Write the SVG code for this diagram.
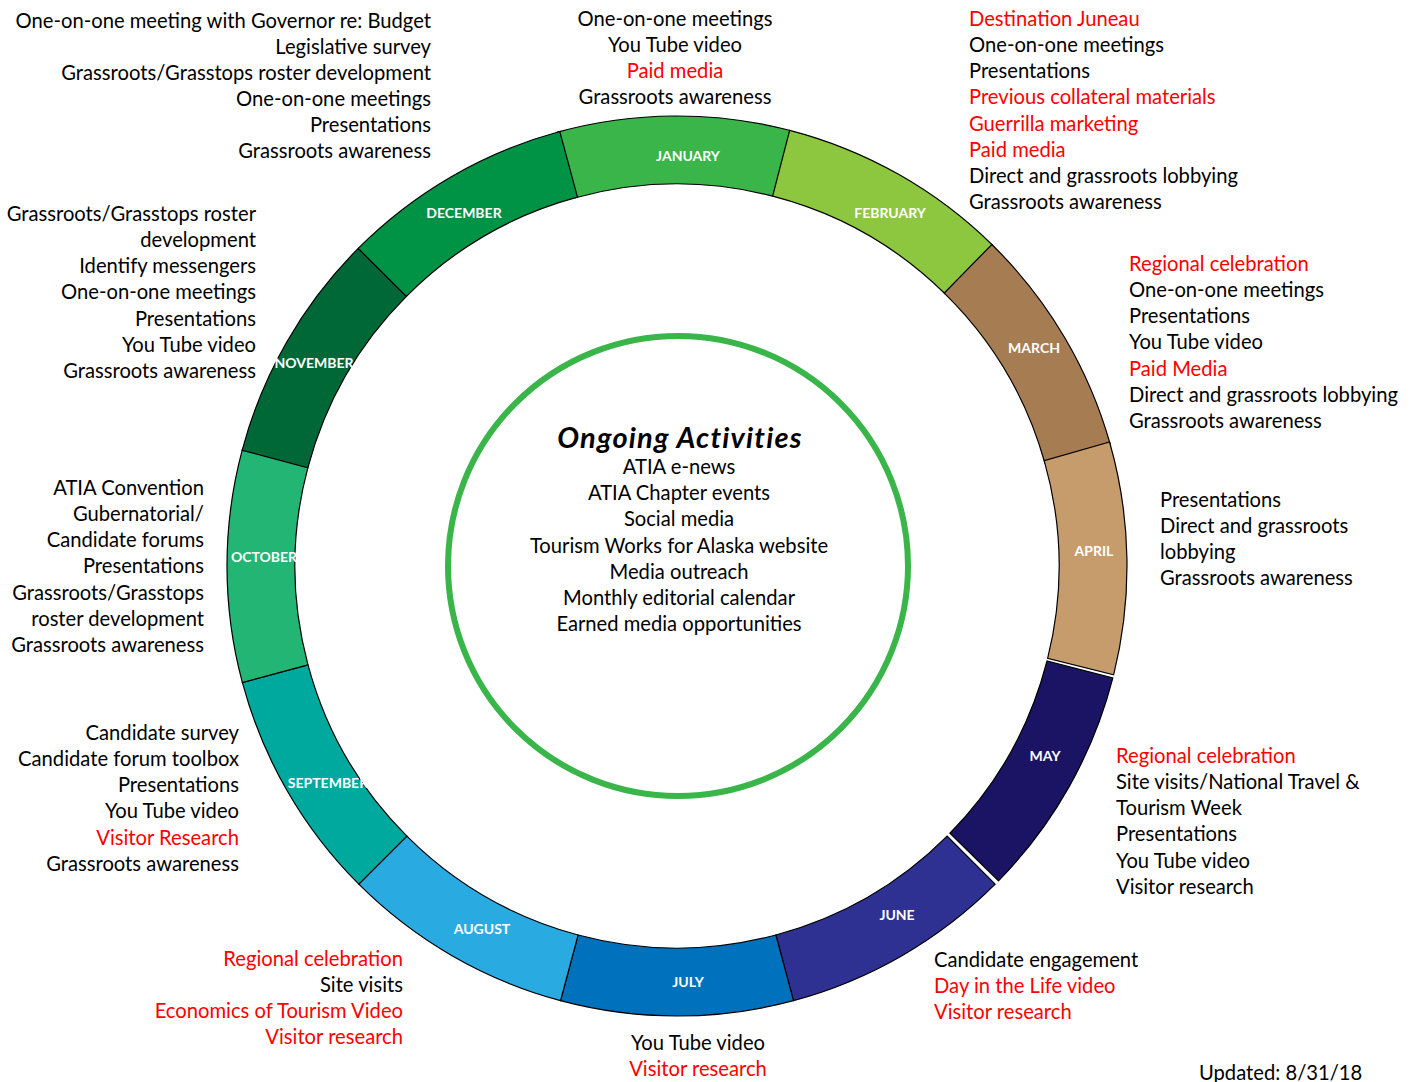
<svg xmlns="http://www.w3.org/2000/svg" xmlns:xlink="http://www.w3.org/1999/xlink" width="1416" height="1082" viewBox="0 0 1416 1082">
<style>
.seg{stroke:#000;stroke-width:1.2;stroke-linejoin:miter}
.ml{font-family:Lato,"Liberation Sans",sans-serif;font-weight:bold;font-size:14px;fill:#fff;text-anchor:middle}
.t{font-family:Lato,"Liberation Sans",sans-serif;font-size:20.2px;fill:#000}
.r{fill:#ff0000}
.e{text-anchor:end}
.m{text-anchor:middle}
.title{font-family:Lato,"Liberation Sans",sans-serif;font-size:29px;letter-spacing:1.2px;font-weight:bold;font-style:italic;fill:#000;text-anchor:middle}
</style>
<defs>
<path id="seg" d="M677,116 A450,450 0 0 1 902,176.29 L868,235.18 A382,382 0 0 0 677,184 Z"/>
</defs>
<rect width="1416" height="1082" fill="#fff"/>
<g id="connectors"/>
<g id="jan"><use xlink:href="#seg" class="seg" fill="#39b54a" transform="rotate(-15.4 677 566)"/><text class="ml" x="688" y="161">JANUARY</text></g>
<g id="feb"><use xlink:href="#seg" class="seg" fill="#8dc63f" transform="rotate(14.5 677 566)"/><text class="ml" x="890" y="218">FEBRUARY</text></g>
<g id="mar"><use xlink:href="#seg" class="seg" fill="#a67c52" transform="rotate(44.4 677 566)"/><text class="ml" x="1034" y="353">MARCH</text></g>
<g id="apr"><use xlink:href="#seg" class="seg" fill="#c69c6d" transform="rotate(74 677 566)"/><text class="ml" x="1094" y="556">APRIL</text></g>
<g id="may"><use xlink:href="#seg" class="seg" fill="#1b1464" transform="rotate(104.4 677 566)"/><text class="ml" x="1045" y="761">MAY</text></g>
<g id="jun"><use xlink:href="#seg" class="seg" fill="#2e3192" transform="rotate(135 677 566)"/><text class="ml" x="897" y="920">JUNE</text></g>
<g id="jul"><use xlink:href="#seg" class="seg" fill="#0071bc" transform="rotate(165 677 566)"/><text class="ml" x="688" y="987">JULY</text></g>
<g id="aug"><use xlink:href="#seg" class="seg" fill="#29abe2" transform="rotate(195 677 566)"/><text class="ml" x="482" y="934">AUGUST</text></g>
<g id="sep"><use xlink:href="#seg" class="seg" fill="#00a99d" transform="rotate(225 677 566)"/><text class="ml" x="328" y="788">SEPTEMBER</text></g>
<g id="oct"><use xlink:href="#seg" class="seg" fill="#22b573" transform="rotate(255 677 566)"/><text class="ml" x="264" y="562">OCTOBER</text></g>
<g id="nov"><use xlink:href="#seg" class="seg" fill="#006837" transform="rotate(284.9 677 566)"/><text class="ml" x="314" y="368">NOVEMBER</text></g>
<g id="dec"><use xlink:href="#seg" class="seg" fill="#009245" transform="rotate(314.9 677 566)"/><text class="ml" x="464" y="218">DECEMBER</text></g>

<g id="ongoing">
<circle cx="678" cy="566" r="230" fill="none" stroke="#39b54a" stroke-width="6"/>
<text class="title" x="680" y="448">Ongoing Activities</text>
<text class="t m" x="679" y="474"><tspan x="679">ATIA e-news</tspan><tspan x="679" dy="26.2">ATIA Chapter events</tspan><tspan x="679" dy="26.2">Social media</tspan><tspan x="679" dy="26.2">Tourism Works for Alaska website</tspan><tspan x="679" dy="26.2">Media outreach</tspan><tspan x="679" dy="26.2">Monthly editorial calendar</tspan><tspan x="679" dy="26.2">Earned media opportunities</tspan></text>
</g>

<g id="dec-notes"><text class="t e" x="431" y="27.5"><tspan x="431">One-on-one meeting with Governor re: Budget</tspan><tspan x="431" dy="26.15">Legislative survey</tspan><tspan x="431" dy="26.15">Grassroots/Grasstops roster development</tspan><tspan x="431" dy="26.15">One-on-one meetings</tspan><tspan x="431" dy="26.15">Presentations</tspan><tspan x="431" dy="26.15">Grassroots awareness</tspan></text></g>

<g id="jan-notes"><text class="t m" x="675" y="26"><tspan x="675">One-on-one meetings</tspan><tspan x="675" dy="26.15">You Tube video</tspan><tspan x="675" dy="26.15" class="r">Paid media</tspan><tspan x="675" dy="26.15">Grassroots awareness</tspan></text></g>

<g id="feb-notes"><text class="t" x="969" y="26"><tspan x="969" class="r">Destination Juneau</tspan><tspan x="969" dy="26.15">One-on-one meetings</tspan><tspan x="969" dy="26.15">Presentations</tspan><tspan x="969" dy="26.15" class="r">Previous collateral materials</tspan><tspan x="969" dy="26.15" class="r">Guerrilla marketing</tspan><tspan x="969" dy="26.15" class="r">Paid media</tspan><tspan x="969" dy="26.15">Direct and grassroots lobbying</tspan><tspan x="969" dy="26.15">Grassroots awareness</tspan></text></g>

<g id="mar-notes"><text class="t" x="1129" y="271"><tspan x="1129" class="r">Regional celebration</tspan><tspan x="1129" dy="26.15">One-on-one meetings</tspan><tspan x="1129" dy="26.15">Presentations</tspan><tspan x="1129" dy="26.15">You Tube video</tspan><tspan x="1129" dy="26.15" class="r">Paid Media</tspan><tspan x="1129" dy="26.15">Direct and grassroots lobbying</tspan><tspan x="1129" dy="26.15">Grassroots awareness</tspan></text></g>

<g id="apr-notes"><text class="t" x="1160" y="507"><tspan x="1160">Presentations</tspan><tspan x="1160" dy="26.15">Direct and grassroots</tspan><tspan x="1160" dy="26.15">lobbying</tspan><tspan x="1160" dy="26.15">Grassroots awareness</tspan></text></g>

<g id="may-notes"><text class="t" x="1116" y="763"><tspan x="1116" class="r">Regional celebration</tspan><tspan x="1116" dy="26.15">Site visits/National Travel &amp;</tspan><tspan x="1116" dy="26.15">Tourism Week</tspan><tspan x="1116" dy="26.15">Presentations</tspan><tspan x="1116" dy="26.15">You Tube video</tspan><tspan x="1116" dy="26.15">Visitor research</tspan></text></g>

<g id="jun-notes"><text class="t" x="934" y="967"><tspan x="934">Candidate engagement</tspan><tspan x="934" dy="26.15" class="r">Day in the Life video</tspan><tspan x="934" dy="26.15" class="r">Visitor research</tspan></text></g>

<g id="jul-notes"><text class="t m" x="698" y="1050"><tspan x="698">You Tube video</tspan><tspan x="698" dy="26.15" class="r">Visitor research</tspan></text></g>

<g id="aug-notes"><text class="t e" x="403" y="966"><tspan x="403" class="r">Regional celebration</tspan><tspan x="403" dy="26.15">Site visits</tspan><tspan x="403" dy="26.15" class="r">Economics of Tourism Video</tspan><tspan x="403" dy="26.15" class="r">Visitor research</tspan></text></g>

<g id="sep-notes"><text class="t e" x="239" y="740"><tspan x="239">Candidate survey</tspan><tspan x="239" dy="26.15">Candidate forum toolbox</tspan><tspan x="239" dy="26.15">Presentations</tspan><tspan x="239" dy="26.15">You Tube video</tspan><tspan x="239" dy="26.15" class="r">Visitor Research</tspan><tspan x="239" dy="26.15">Grassroots awareness</tspan></text></g>

<g id="oct-notes"><text class="t e" x="204" y="495"><tspan x="204">ATIA Convention</tspan><tspan x="204" dy="26.15">Gubernatorial/</tspan><tspan x="204" dy="26.15">Candidate forums</tspan><tspan x="204" dy="26.15">Presentations</tspan><tspan x="204" dy="26.15">Grassroots/Grasstops</tspan><tspan x="204" dy="26.15">roster development</tspan><tspan x="204" dy="26.15">Grassroots awareness</tspan></text></g>

<g id="nov-notes"><text class="t e" x="256" y="221"><tspan x="256">Grassroots/Grasstops roster</tspan><tspan x="256" dy="26.15">development</tspan><tspan x="256" dy="26.15">Identify messengers</tspan><tspan x="256" dy="26.15">One-on-one meetings</tspan><tspan x="256" dy="26.15">Presentations</tspan><tspan x="256" dy="26.15">You Tube video</tspan><tspan x="256" dy="26.15">Grassroots awareness</tspan></text></g>

<g id="updated"><text class="t" x="1199" y="1080">Updated: 8/31/18</text></g>
</svg>
